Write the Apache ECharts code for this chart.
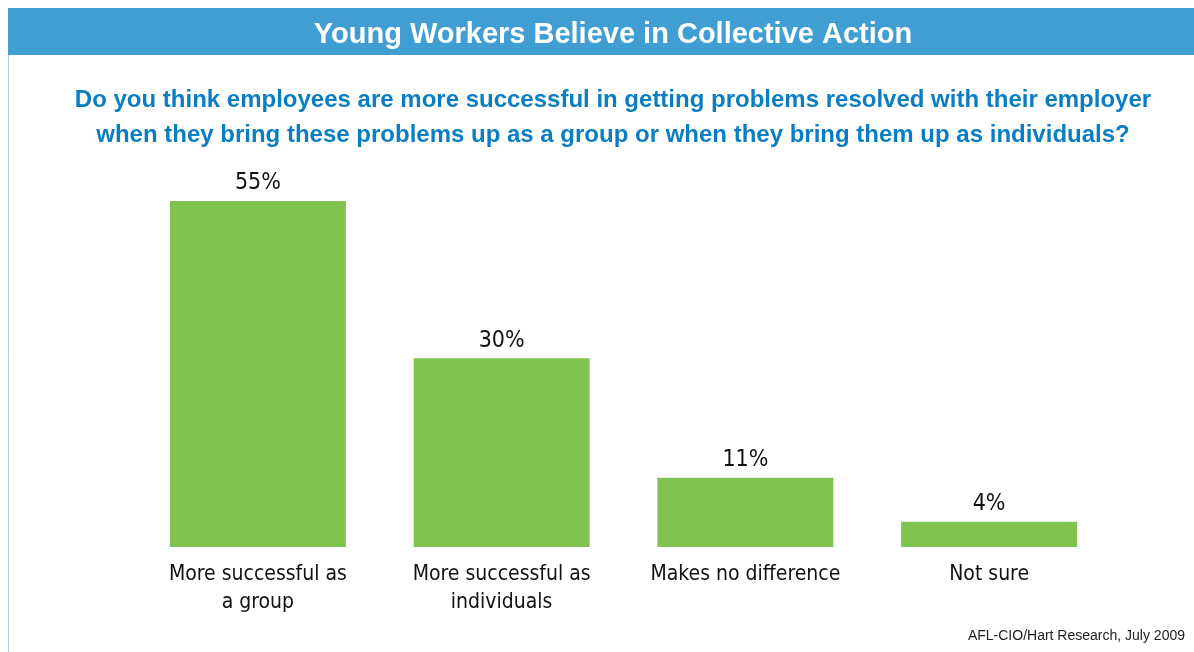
<!DOCTYPE html>
<html>
<head>
<meta charset="utf-8">
<script src="https://cdn.jsdelivr.net/npm/echarts@6/dist/echarts.min.js"></script>
<style>
  html, body { margin: 0; padding: 0; background: #fff; }
  #chart { width: 1194px; height: 652px; }
</style>
</head>
<body>
<div id="chart"></div>
<script>
const categories = ["More successful as\na group", "More successful as\nindividuals", "Makes no difference", "Not sure"];
const values = [55, 30, 11, 4];

const narrow = "'Liberation Sans Narrow', 'DejaVu Sans Condensed', 'Roboto', sans-serif";

const chart = echarts.init(document.getElementById("chart"));
chart.setOption({
  animation: false,
  title: [
    {
      text: "Young Workers Believe in Collective Action",
      left: 608,
      textAlign: "center",
      top: 15,
      textStyle: { color: "#fff", fontSize: 29, fontWeight: "bold", fontFamily: "'Liberation Sans', Arial, sans-serif" }
    },
    {
      text: "Do you think employees are more successful in getting problems resolved with their employer\nwhen they bring these problems up as a group or when they bring them up as individuals?",
      left: 608,
      textAlign: "center",
      top: 78,
      textStyle: { color: "#0a7ec2", fontSize: 24, fontWeight: "bold", lineHeight: 35, fontFamily: "'Liberation Sans', Arial, sans-serif" }
    },
    {
      text: "AFL-CIO/Hart Research, July 2009",
      right: 4,
      top: 624,
      textStyle: { color: "#222", fontSize: 14, fontWeight: "normal", fontFamily: "'Liberation Sans', Arial, sans-serif" }
    }
  ],
  graphic: [
    { type: "rect", z: -1, shape: { x: 8, y: 8, width: 1186, height: 47 }, style: { fill: "#409ed3" } },
    { type: "line", shape: { x1: 8.5, y1: 55, x2: 8.5, y2: 652 }, style: { stroke: "#a9d4ee", lineWidth: 1 } }
  ],
  grid: { left: 136, width: 975, top: 201, bottom: 105 },
  xAxis: {
    type: "category",
    data: categories,
    axisLine: { show: false },
    axisTick: { show: false },
    axisLabel: { interval: 0, color: "#111", fontSize: 21, lineHeight: 28, margin: 14, fontFamily: narrow }
  },
  yAxis: {
    type: "value",
    min: 0,
    max: 55,
    show: false,
    splitLine: { show: false }
  },
  series: [{
    type: "bar",
    data: values,
    barWidth: 176,
    itemStyle: { color: "#80c34f" },
    label: {
      show: true,
      position: "top",
      distance: 6,
      formatter: "{c}%",
      color: "#111",
      fontSize: 23,
      fontFamily: narrow
    }
  }]
});
</script>
</body>
</html>
